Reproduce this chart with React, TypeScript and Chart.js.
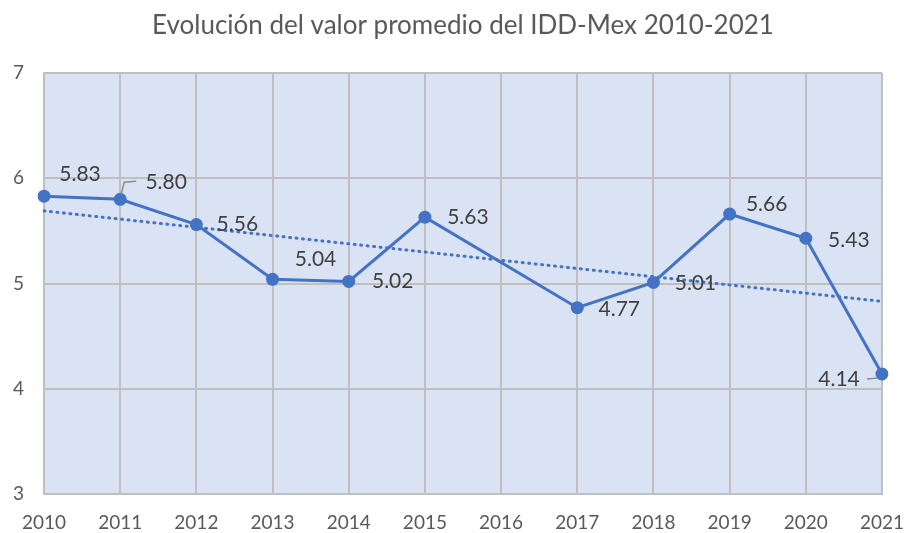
import React, { useEffect, useRef } from "react";
import { Chart, registerables } from "chart.js";

Chart.register(...registerables);

const TITLE = "Evolución del valor promedio del IDD-Mex 2010-2021";
const YEARS = ["2010", "2011", "2012", "2013", "2014", "2015", "2016", "2017", "2018", "2019", "2020", "2021"];
const IDD_VALUES: (number | null)[] = [5.83, 5.8, 5.56, 5.04, 5.02, 5.63, null, 4.77, 5.01, 5.66, 5.43, 4.14];
const TREND_VALUES: (number | null)[] = [5.69, null, null, null, null, null, null, null, null, null, null, 4.83];
const Y_MIN = 3;
const Y_MAX = 7;

// label placement (pixels relative to point)
const LABEL_DX = [36, 46, 41, 43, 44, 43, 0, 42, 42, 37, 43, -43];
const LABEL_DY = [-22, -17, 0, -20, 0, 0, 0, 2, 1, -10, 2, 5];

const FONT = "Lato, 'Open Sans', sans-serif";
const BLUE = "#4472c4";

const bgPlugin = {
  id: "plotBg",
  beforeDraw(chart: any) {
    const { ctx, chartArea } = chart;
    ctx.save();
    ctx.fillStyle = "#dae3f3";
    ctx.fillRect(chartArea.left, chartArea.top, chartArea.right - chartArea.left, chartArea.bottom - chartArea.top);
    ctx.restore();
  },
  afterDraw(chart: any) {
    const { ctx } = chart;
    ctx.save();
    ctx.fillStyle = "#595959";
    ctx.font = `26px ${FONT}`;
    ctx.textAlign = "center";
    ctx.textBaseline = "middle";
    ctx.fillText(TITLE, 463, 26);
    ctx.restore();
  },
};

const labelPlugin = {
  id: "valueLabels",
  afterDatasetsDraw(chart: any) {
    const { ctx } = chart;
    const meta = chart.getDatasetMeta(0);
    ctx.save();
    ctx.font = `21px ${FONT}`;
    ctx.fillStyle = "#404040";
    ctx.textAlign = "center";
    ctx.textBaseline = "middle";
    IDD_VALUES.forEach((v, i) => {
      if (v === null) return;
      const pt = meta.data[i];
      ctx.fillText(v.toFixed(2), pt.x + LABEL_DX[i], pt.y + LABEL_DY[i]);
    });
    // leader lines
    ctx.strokeStyle = "#8c8c8c";
    ctx.lineWidth = 1.5;
    const p1 = meta.data[1];
    ctx.beginPath();
    ctx.moveTo(p1.x + 1, p1.y - 5);
    ctx.lineTo(p1.x + 4, p1.y - 17);
    ctx.lineTo(p1.x + 16, p1.y - 18);
    ctx.stroke();
    const p11 = meta.data[11];
    ctx.beginPath();
    ctx.moveTo(p11.x - 15, p11.y + 5);
    ctx.lineTo(p11.x - 4, p11.y + 4);
    ctx.stroke();
    ctx.restore();
  },
};

export default function App() {
  const ref = useRef<HTMLCanvasElement | null>(null);
  useEffect(() => {
    if (!ref.current) return;
    const chart = new Chart(ref.current, {
      type: "line",
      data: {
        labels: YEARS,
        datasets: [
          {
            label: "IDD-Mex",
            data: IDD_VALUES,
            borderColor: BLUE,
            backgroundColor: BLUE,
            borderWidth: 3,
            pointRadius: 6.5,
            pointBackgroundColor: BLUE,
            pointBorderWidth: 0,
            spanGaps: true,
            tension: 0,
          },
          {
            label: "Tendencia",
            data: TREND_VALUES,
            borderColor: BLUE,
            borderWidth: 3,
            borderDash: [1, 5.5],
            borderCapStyle: "round",
            pointRadius: 0,
            spanGaps: true,
          },
        ],
      },
      options: {
        responsive: true,
        maintainAspectRatio: false,
        animation: false,
        layout: { padding: { top: 73, right: 25, left: 0, bottom: 0 } },
        plugins: { legend: { display: false }, tooltip: { enabled: false }, title: { display: false } },
        scales: {
          x: {
            type: "category",
            offset: false,
            grid: { color: "#bfbfbf", lineWidth: 2, drawTicks: false },
            border: { color: "#bfbfbf", width: 2 },
            ticks: { color: "#595959", font: { family: FONT, size: 19 }, padding: 17, maxRotation: 0, autoSkip: false },
            afterFit(scale: any) {
              scale.height = 39;
              scale.paddingLeft = 0;
              scale.paddingRight = 0;
            },
          },
          y: {
            min: Y_MIN,
            max: Y_MAX,
            ticks: { stepSize: 1, color: "#595959", font: { family: FONT, size: 19 }, padding: 20 },
            grid: { color: "#bfbfbf", lineWidth: 2, drawTicks: false },
            border: { color: "#bfbfbf", width: 2 },
            afterFit(scale: any) {
              scale.width = 44;
              scale.paddingTop = 0;
              scale.paddingBottom = 0;
            },
          },
        },
      },
      plugins: [bgPlugin, labelPlugin],
    } as any);
    return () => chart.destroy();
  }, []);
  return (
    <div style={{ position: "fixed", left: 0, top: 0, width: 907, height: 533, background: "#fff" }}>
      <canvas ref={ref} />
    </div>
  );
}
